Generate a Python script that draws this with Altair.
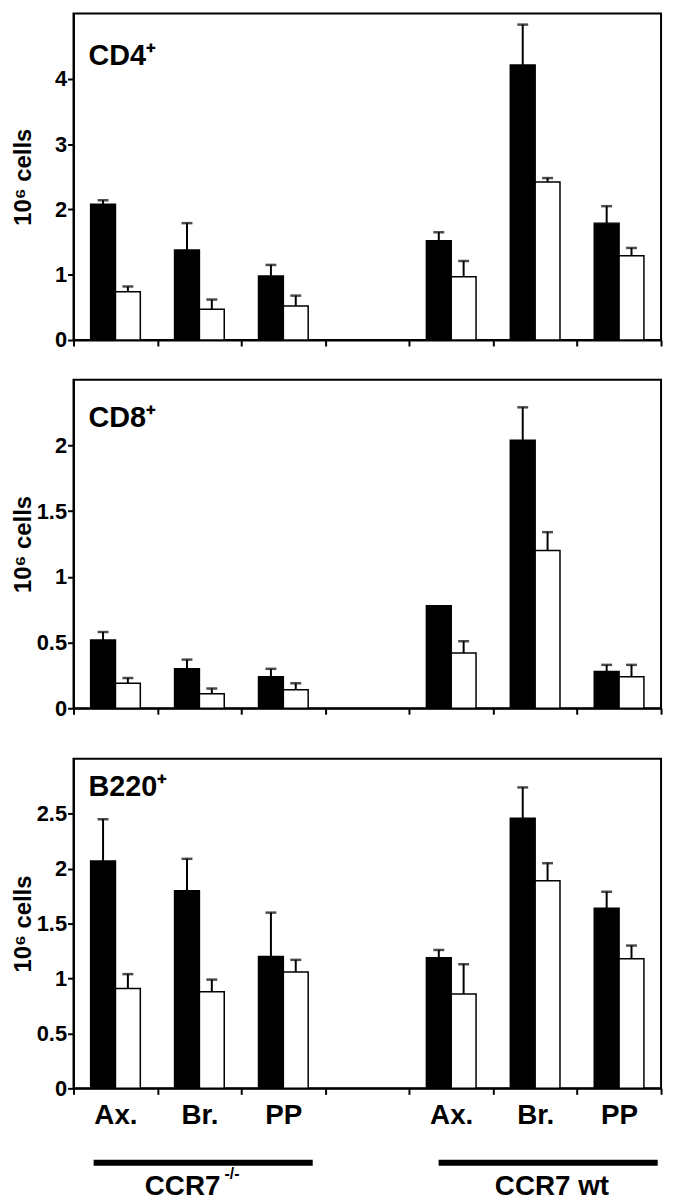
import altair as alt
import pandas as pd

# ---------------- data ----------------
slots = ["KO_Ax.", "KO_Br.", "KO_PP", "gap", "WT_Ax.", "WT_Br.", "WT_PP"]
bar_slots = ["KO_Ax.", "KO_Br.", "KO_PP", "WT_Ax.", "WT_Br.", "WT_PP"]
series = ["filled", "open"]

cd4_filled = [2.08, 1.38, 0.98, 1.52, 4.21, 1.79]
cd4_filled_err = [0.06, 0.41, 0.17, 0.13, 0.62, 0.26]
cd4_open = [0.74, 0.47, 0.52, 0.97, 2.42, 1.29]
cd4_open_err = [0.08, 0.15, 0.16, 0.24, 0.06, 0.12]

cd8_filled = [0.52, 0.30, 0.24, 0.78, 2.04, 0.28]
cd8_filled_err = [0.06, 0.07, 0.06, None, 0.25, 0.05]
cd8_open = [0.19, 0.11, 0.14, 0.42, 1.20, 0.24]
cd8_open_err = [0.04, 0.04, 0.05, 0.09, 0.14, 0.09]

b220_filled = [2.07, 1.80, 1.20, 1.19, 2.46, 1.64]
b220_filled_err = [0.38, 0.29, 0.40, 0.07, 0.28, 0.15]
b220_open = [0.91, 0.88, 1.06, 0.86, 1.89, 1.18]
b220_open_err = [0.13, 0.11, 0.11, 0.27, 0.16, 0.12]

group_labels = ["CCR7", "CCR7 wt"]
group_start = [0.24, 4.35]
group_end = [2.85, 6.96]
group_center = [1.30, 5.70]
group_sup = ["-/-", " "]
group_sup_pos = [1.80, 6.5]

FONT = "Liberation Sans"
W = 592


def make_df(filled, ferr, opened, oerr):
    rows = []
    for s, v, e in zip(bar_slots, filled, ferr):
        rows.append({"slot": s, "series": "filled", "value": v,
                     "top": v + (e if e is not None else 0), "has_err": e is not None})
    for s, v, e in zip(bar_slots, opened, oerr):
        rows.append({"slot": s, "series": "open", "value": v,
                     "top": v + (e if e is not None else 0), "has_err": e is not None})
    return pd.DataFrame(rows)


def panel(filled, ferr, opened, oerr, ymax, ticks, label, label_y, height, show_labels):
    df = make_df(filled, ferr, opened, oerr)
    base = alt.Chart(df)
    if show_labels:
        xaxis = alt.Axis(title=None,
                         labelExpr="isString(datum.value) && datum.value != 'gap' ? substring(datum.value, 3) : ''",
                         labelAngle=0, labelFontSize=28, labelFontWeight="bold", labelPadding=7,
                         labelColor="black", tickBand="extent", tickSize=6, tickWidth=2,
                         tickColor="black", domainColor="black", domainWidth=2, labelFont=FONT)
    else:
        xaxis = alt.Axis(title=None, labels=False, tickBand="extent", tickSize=6, tickWidth=2,
                         tickColor="black", domainColor="black", domainWidth=2)
    x = alt.X("slot:N", scale=alt.Scale(domain=slots, paddingInner=0, paddingOuter=0), axis=xaxis)
    xo = alt.XOffset("series:N", scale=alt.Scale(domain=series, paddingInner=0, paddingOuter=0.69))
    yaxis = alt.Axis(values=ticks, format="~g", title="10⁶ cells", titleFontSize=24,
                     titleFontWeight="bold", titleFont=FONT, titleColor="black",
                     labelFontSize=22, labelFontWeight="bold", titlePadding=0, minExtent=38,
                     labelFont=FONT, labelColor="black", labelPadding=1, tickSize=6,
                     tickWidth=2, tickColor="black", domainColor="black", domainWidth=2,
                     grid=False)
    yscale = alt.Scale(domain=[0, ymax], nice=False, zero=True)

    bars = base.mark_bar(stroke="black", strokeWidth=1.5).encode(
        x=x, xOffset=xo,
        y=alt.Y("value:Q", scale=yscale, axis=yaxis),
        color=alt.Color("series:N", scale=alt.Scale(domain=series, range=["black", "white"]), legend=None),
    )
    errs = base.transform_filter("datum.has_err")
    stems = errs.mark_rule(color="black", strokeWidth=2).encode(
        x=x, xOffset=xo,
        y=alt.Y("value:Q", scale=yscale, axis=yaxis),
        y2="top:Q",
    )
    caps = errs.mark_tick(color="black", thickness=2.5, size=11).encode(
        x=x, xOffset=xo,
        y=alt.Y("top:Q", scale=yscale, axis=yaxis),
    )
    lbl = alt.Chart(pd.DataFrame({"t": [label]})).mark_text(
        align="left", baseline="alphabetic", fontSize=29, fontWeight="bold", font=FONT, color="black"
    ).encode(text="t:N", x=alt.value(15), y=alt.value(label_y))
    return alt.layer(bars, stems, caps, lbl).properties(width=W, height=height)


p1 = panel(cd4_filled, cd4_filled_err, cd4_open, cd4_open_err, 5.0, [0, 1, 2, 3, 4], "CD4⁺", 52, 329, False)
p2 = panel(cd8_filled, cd8_filled_err, cd8_open, cd8_open_err, 2.5, [0, 0.5, 1, 1.5, 2], "CD8⁺", 48, 331, False)
p3 = panel(b220_filled, b220_filled_err, b220_open, b220_open_err, 3.0, [0, 0.5, 1, 1.5, 2, 2.5], "B220⁺", 37, 332, True)

gdf = pd.DataFrame({"label": group_labels, "start": group_start, "end": group_end,
                    "center": group_center, "sup": group_sup, "suppos": group_sup_pos})
xs = alt.Scale(domain=[0, 7], nice=False, zero=False)
gbase = alt.Chart(gdf)
grule = gbase.mark_rule(color="black", strokeWidth=6).encode(
    x=alt.X("start:Q", scale=xs, axis=None), x2="end:Q", y=alt.value(24))
gtext = gbase.mark_text(fontSize=28, fontWeight="bold", font=FONT, color="black",
                        baseline="alphabetic", align="center").encode(
    x=alt.X("center:Q", scale=xs, axis=None), y=alt.value(56), text="label:N")
gsup = gbase.mark_text(fontSize=16, fontWeight="bold", font=FONT, color="black",
                       baseline="alphabetic", align="left").encode(
    x=alt.X("suppos:Q", scale=xs, axis=None), y=alt.value(40), text="sup:N")
strip = alt.layer(grule, gtext, gsup).properties(
    width=W, height=58, view=alt.ViewBackground(stroke="transparent"))

chart = alt.vconcat(
    alt.vconcat(p1, p2, spacing=27),
    alt.vconcat(p3, strip, spacing=8),
    spacing=38,
).properties(padding={"left": 3, "top": 0, "right": 5, "bottom": 0}).configure_view(
    stroke="black", strokeWidth=2)

chart.save("out.html", embed_options={"renderer": "svg", "actions": False})
